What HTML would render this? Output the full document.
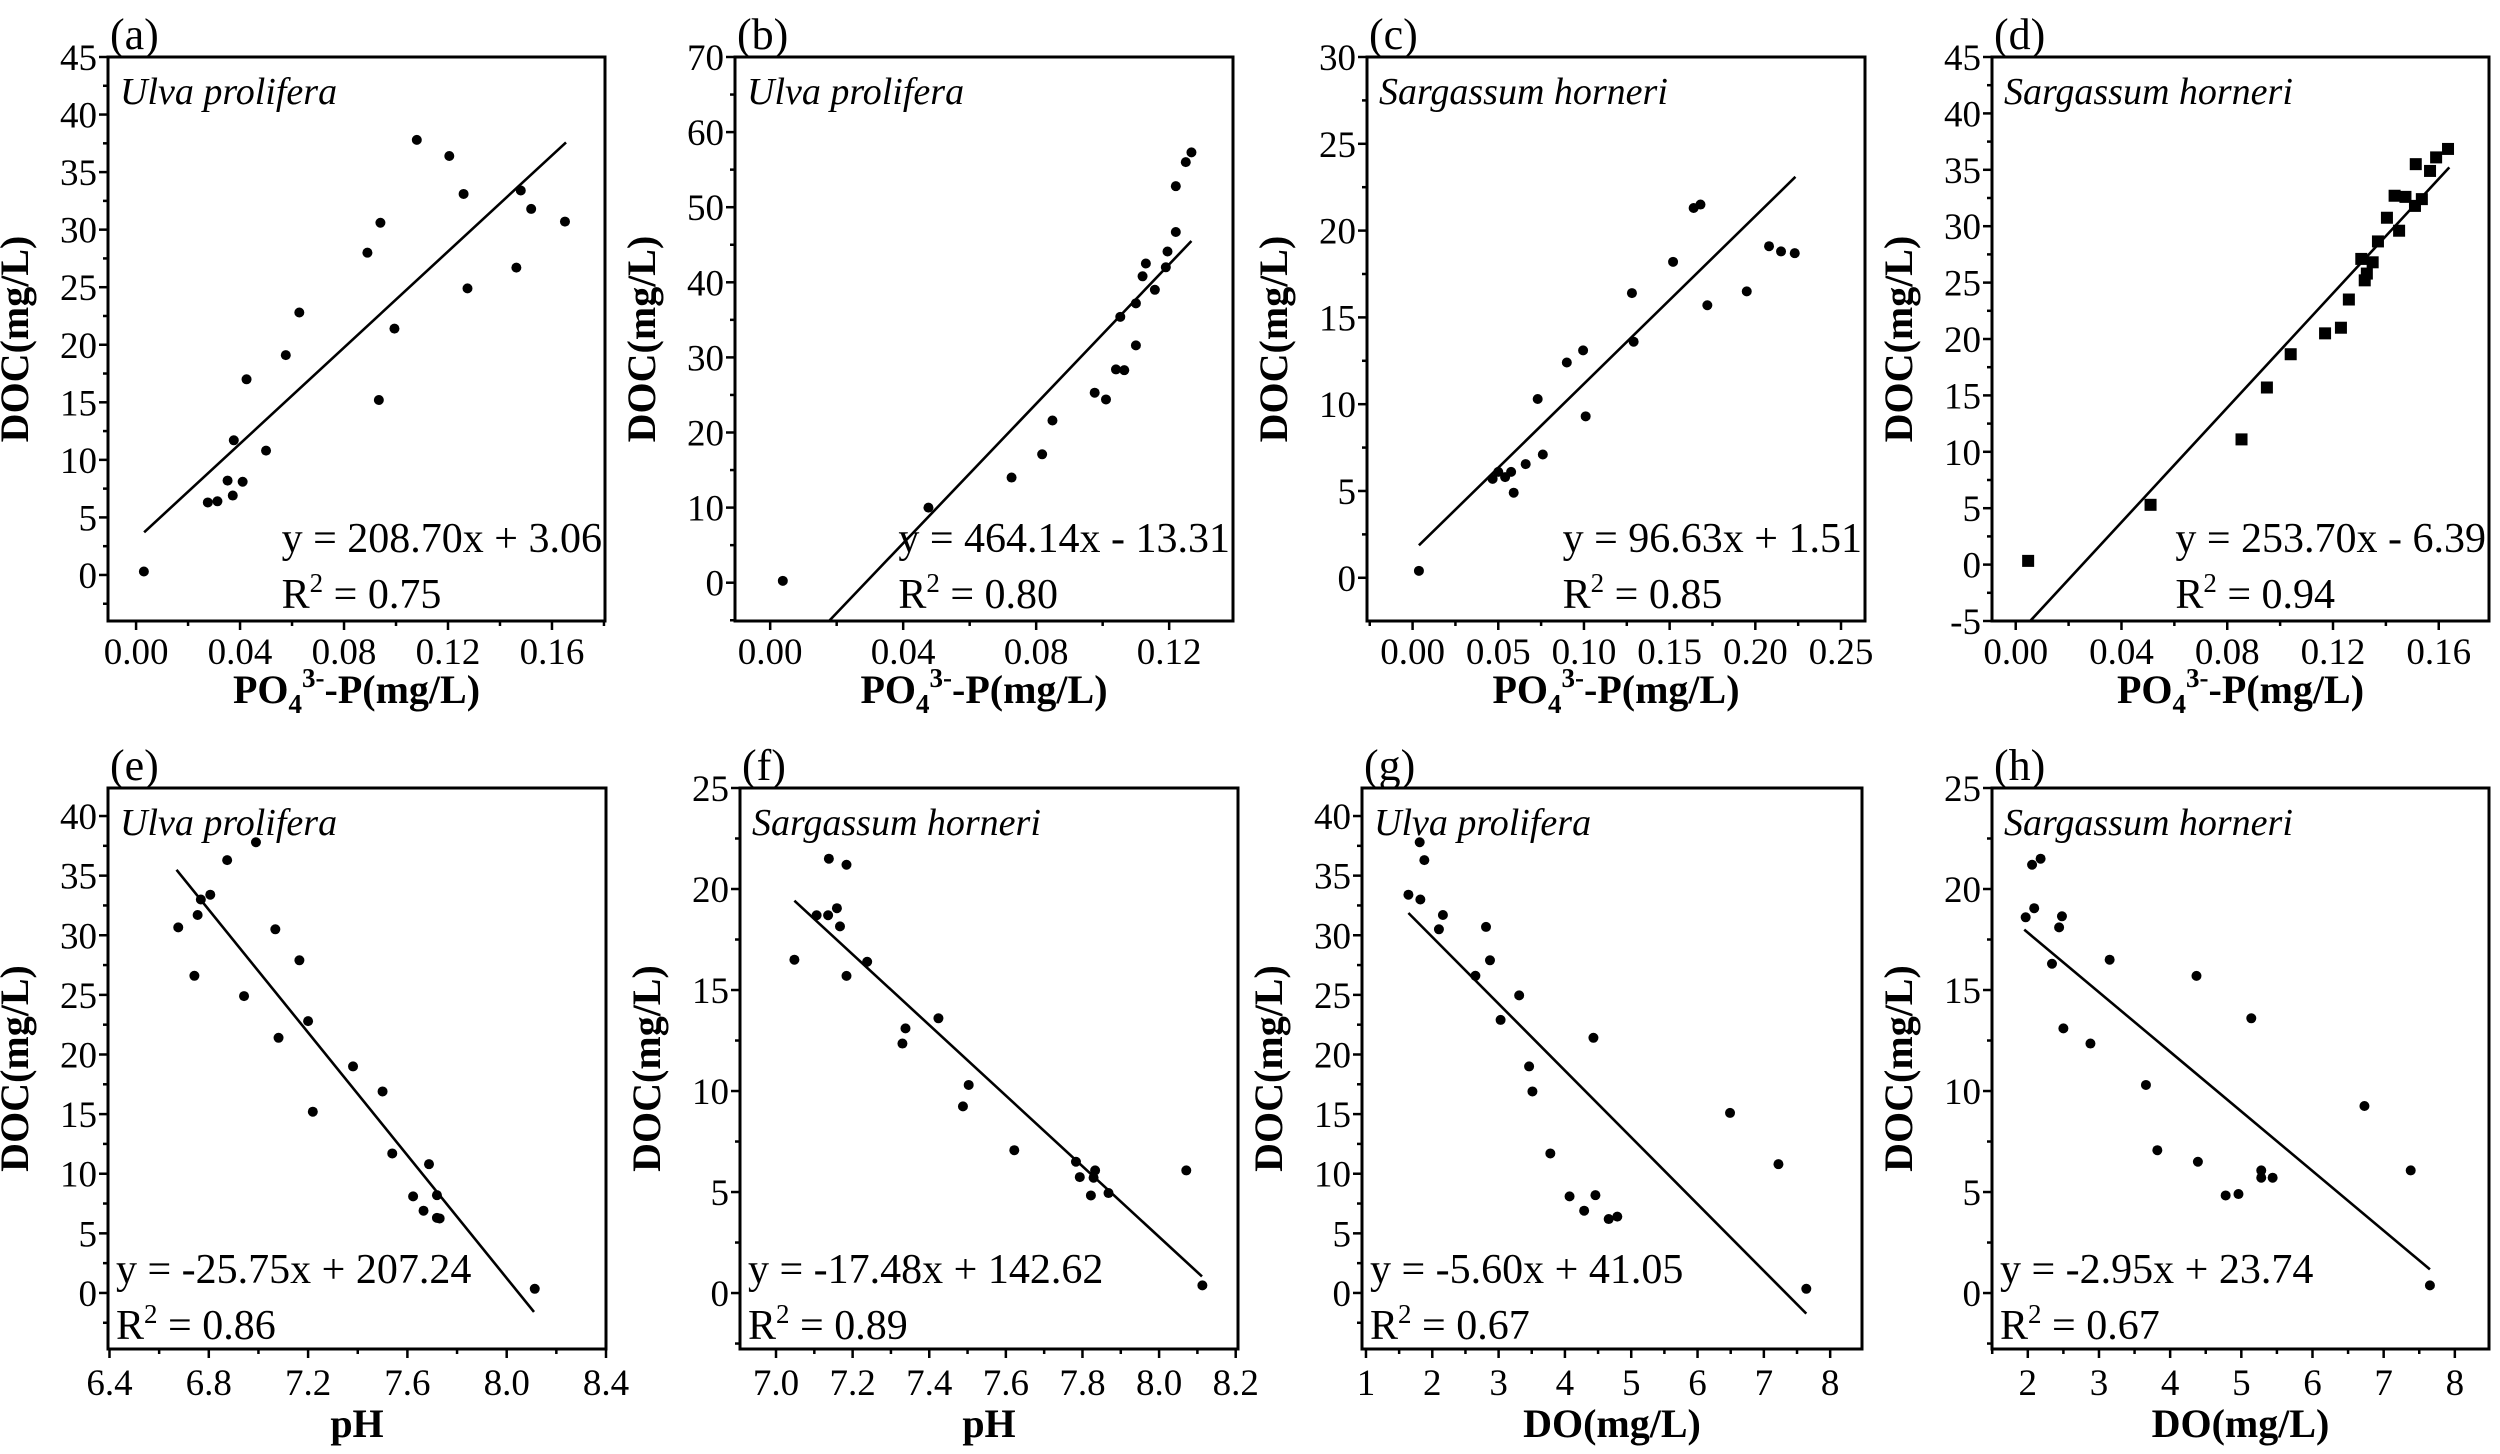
<!DOCTYPE html>
<html><head><meta charset="utf-8"><style>
html,body{margin:0;padding:0;background:#fff}
svg{display:block;font-family:"Liberation Serif","DejaVu Serif",serif}
text{font-family:"Liberation Serif","DejaVu Serif",serif;fill:#000}
</style></head><body>
<svg id="chart" xmlns="http://www.w3.org/2000/svg" width="2500" height="1454" viewBox="0 0 2500 1454" font-family="Liberation Serif, DejaVu Serif, serif"></svg>
<script>
// ---- data arrays ----
const aX=[0.003,0.0276,0.0313,0.0352,0.0372,0.0376,0.041,0.0425,0.050,0.0576,0.0628,0.089,0.0934,0.094,0.0994,0.108,0.1205,0.126,0.1275,0.1463,0.148,0.152,0.165];
const aY=[0.3,6.3,6.4,8.2,6.9,11.7,8.1,17,10.8,19.1,22.8,28,15.2,30.6,21.4,37.8,36.4,33.1,24.9,26.7,33.4,31.8,30.7];
const bX=[0.0038,0.0476,0.0726,0.0818,0.0849,0.0976,0.101,0.104,0.1065,0.1053,0.110,0.110,0.112,0.113,0.1157,0.119,0.1195,0.122,0.122,0.125,0.1267];
const bY=[0.25,10.0,14.0,17.1,21.6,25.3,24.4,28.4,28.3,35.4,31.6,37.2,40.8,42.5,39.0,42.0,44.1,46.7,52.8,56.0,57.3];
const cX=[0.0037,0.0467,0.050,0.054,0.0575,0.059,0.066,0.073,0.076,0.090,0.0995,0.101,0.128,0.129,0.152,0.164,0.168,0.172,0.195,0.208,0.215,0.223];
const cY=[0.4,5.7,6.1,5.8,6.1,4.9,6.55,10.3,7.1,12.4,13.1,9.3,16.4,13.6,18.2,21.3,21.5,15.7,16.5,19.1,18.8,18.7];
const dX=[0.0047,0.051,0.0854,0.095,0.104,0.117,0.123,0.126,0.1307,0.132,0.1328,0.135,0.137,0.1404,0.1433,0.145,0.1474,0.151,0.1513,0.1536,0.1567,0.159,0.1635];
const dY=[0.33,5.3,11.1,15.7,18.65,20.5,21.0,23.5,27.1,25.2,25.8,26.8,28.65,30.75,32.7,29.6,32.6,31.8,35.5,32.4,34.9,36.1,36.85];
const eX=[6.677,6.742,6.755,6.768,6.806,6.874,6.942,6.99,7.068,7.081,7.165,7.2,7.219,7.381,7.5,7.539,7.623,7.665,7.687,7.719,7.719,7.73,8.113];
const eY=[30.66,26.6,31.7,33.0,33.4,36.3,24.9,37.8,30.5,21.4,27.9,22.8,15.2,19.0,16.9,11.7,8.1,6.9,10.8,8.2,6.3,6.25,0.35];
const fX=[7.048,7.106,7.136,7.138,7.159,7.167,7.184,7.184,7.238,7.33,7.338,7.424,7.488,7.503,7.622,7.783,7.793,7.822,7.829,7.833,7.868,8.071,8.113];
const fY=[16.5,18.7,18.7,21.5,19.05,18.15,21.2,15.7,16.4,12.35,13.1,13.6,9.24,10.3,7.07,6.5,5.74,4.83,5.71,6.07,4.95,6.07,0.38];
const gX=[1.64,1.81,1.82,1.88,2.1,2.16,2.65,2.81,2.87,3.03,3.31,3.46,3.51,3.78,4.07,4.29,4.43,4.46,4.66,4.79,6.49,7.22,7.64];
const gY=[33.4,37.8,33.0,36.3,30.5,31.7,26.6,30.7,27.9,22.9,24.96,19.0,16.9,11.7,8.1,6.9,21.4,8.2,6.2,6.4,15.1,10.8,0.35];
const hX=[1.97,2.06,2.09,2.18,2.34,2.44,2.48,2.5,2.88,3.15,3.66,3.82,4.37,4.39,4.78,4.96,5.14,5.28,5.28,5.44,6.73,7.38,7.65];
const hY=[18.6,21.2,19.05,21.5,16.3,18.1,18.65,13.1,12.35,16.5,10.3,7.07,15.7,6.5,4.83,4.9,13.6,6.07,5.71,5.71,9.26,6.07,0.38];
const fitSlope=[208.70,464.14,96.63,253.70,-25.75,-17.48,-5.60,-2.95];
const fitIntercept=[3.06,-13.31,1.51,-6.39,207.24,142.62,41.05,23.74];
const fitStart=[0.0031,0.0177,0.0037,0.0055,6.67,7.048,1.64,1.95];
const fitEnd=[0.1654,0.1267,0.2234,0.164,8.11,8.112,7.64,7.65];
const eqLabels=["y = 208.70x + 3.06","y = 464.14x - 13.31","y = 96.63x + 1.51","y = 253.70x - 6.39","y = -25.75x + 207.24","y = -17.48x + 142.62","y = -5.60x + 41.05","y = -2.95x + 23.74"];
const r2Labels=["0.75","0.80","0.85","0.94","0.86","0.89","0.67","0.67"];
const speciesLabels=["Ulva prolifera","Ulva prolifera","Sargassum horneri","Sargassum horneri","Ulva prolifera","Sargassum horneri","Ulva prolifera","Sargassum horneri"];
const panelLetters=["(a)","(b)","(c)","(d)","(e)","(f)","(g)","(h)"];
const xTicksA=[0,0.04,0.08,0.12,0.16], xTickLabelsA=["0.00","0.04","0.08","0.12","0.16"];
const xTicksB=[0,0.04,0.08,0.12], xTickLabelsB=["0.00","0.04","0.08","0.12"];
const xTicksC=[0,0.05,0.10,0.15,0.20,0.25], xTickLabelsC=["0.00","0.05","0.10","0.15","0.20","0.25"];
const xTicksE=[6.4,6.8,7.2,7.6,8.0,8.4], xTickLabelsE=["6.4","6.8","7.2","7.6","8.0","8.4"];
const xTicksF=[7.0,7.2,7.4,7.6,7.8,8.0,8.2], xTickLabelsF=["7.0","7.2","7.4","7.6","7.8","8.0","8.2"];
const xTicksG=[1,2,3,4,5,6,7,8], xTickLabelsG=["1","2","3","4","5","6","7","8"];
const xTicksH=[2,3,4,5,6,7,8], xTickLabelsH=["2","3","4","5","6","7","8"];
const yTicks45=[0,5,10,15,20,25,30,35,40,45];
const yTicks70=[0,10,20,30,40,50,60,70];
const yTicks30=[0,5,10,15,20,25,30];
const yTicksD=[-5,0,5,10,15,20,25,30,35,40,45];
const yTicks40=[-5,0,5,10,15,20,25,30,35,40];
const yTicks25=[0,5,10,15,20,25];

const panels=[
 {box:[108,57,605,621],xd:[-0.0108,0.1804],yd:[-4,45],xs:aX,ys:aY,xt:xTicksA,xl:xTickLabelsA,yt:yTicks45,xtitle:'po4',mk:'dot',eqAlign:'end',row:0},
 {box:[735,57,1233,621],xd:[-0.01058,0.1392],yd:[-5.1,70],xs:bX,ys:bY,xt:xTicksB,xl:xTickLabelsB,yt:yTicks70,xtitle:'po4',mk:'dot',eqAlign:'end',row:0},
 {box:[1367,57,1865,621],xd:[-0.0266,0.264],yd:[-2.49,30],xs:cX,ys:cY,xt:xTicksC,xl:xTickLabelsC,yt:yTicks30,xtitle:'po4',mk:'dot',eqAlign:'end',row:0},
 {box:[1992,57,2489,621],xd:[-0.00897,0.179],yd:[-5,45],xs:dX,ys:dY,xt:xTicksA,xl:xTickLabelsA,yt:yTicksD,xtitle:'po4',mk:'square',eqAlign:'end',row:0},
 {box:[108,788,606,1349],xd:[6.394,8.4],yd:[-4.7,42.35],xs:eX,ys:eY,xt:xTicksE,xl:xTickLabelsE,yt:yTicks40,xtitle:'pH',mk:'dot',eqAlign:'start',row:1},
 {box:[740,788,1238,1349],xd:[6.906,8.206],yd:[-2.77,25],xs:fX,ys:fY,xt:xTicksF,xl:xTickLabelsF,yt:yTicks25,xtitle:'pH',mk:'dot',eqAlign:'start',row:1},
 {box:[1362,788,1862,1349],xd:[0.94,8.48],yd:[-4.7,42.35],xs:gX,ys:gY,xt:xTicksG,xl:xTickLabelsG,yt:yTicks40,xtitle:'DO(mg/L)',mk:'dot',eqAlign:'start',row:1},
 {box:[1992,788,2489,1349],xd:[1.497,8.48],yd:[-2.77,25],xs:hX,ys:hY,xt:xTicksH,xl:xTickLabelsH,yt:yTicks25,xtitle:'DO(mg/L)',mk:'dot',eqAlign:'start',row:1}
];
const NS='http://www.w3.org/2000/svg';
const svg=document.getElementById('chart');
const FF='Liberation Serif, DejaVu Serif, serif';
function el(tag,attrs,parent){const e=document.createElementNS(NS,tag);for(const k in attrs)e.setAttribute(k,attrs[k]);if(tag==='text')e.setAttribute('font-family',FF);(parent||svg).appendChild(e);return e;}

panels.forEach((p,i)=>{
  const [x0,y0,x1,y1]=p.box;
  const letter=panelLetters[i].replace(/[()]/g,'');
  const g=el('g',{});
  
  
  const sx=v=>x0+(v-p.xd[0])/(p.xd[1]-p.xd[0])*(x1-x0);
  const sy=v=>y1-(v-p.yd[0])/(p.yd[1]-p.yd[0])*(y1-y0);
  const ystep=p.yt[1]-p.yt[0];
  for(let v=p.yt[0]-ystep/2; v<=p.yd[1]+1e-9; v+=ystep/2){
    if(v<p.yd[0]-1e-9) continue;
    const major=p.yt.some(t=>Math.abs(t-v)<1e-9);
    const yy=sy(v);
    const t=el('line',{x1:x0-(major?9:5),x2:x0,y1:yy,y2:yy,stroke:'#000','stroke-width':2.5},g);
    
    
    if(major){
      const lb=el('text',{x:x0-11,y:yy+13,'font-size':37,'text-anchor':'end'},g);
      lb.textContent=String(v);
      
      
    }
  }
  const xstep=p.xt[1]-p.xt[0];
  for(let v=p.xt[0]-xstep/2; v<=p.xd[1]+1e-9; v+=xstep/2){
    if(v<p.xd[0]-1e-9) continue;
    const idx=p.xt.findIndex(t=>Math.abs(t-v)<1e-9);
    const major=idx>=0;
    const xx=sx(v);
    const t=el('line',{x1:xx,x2:xx,y1:y1,y2:y1+(major?9:5),stroke:'#000','stroke-width':2.5},g);
    
    
    if(major){
      const lb=el('text',{x:xx,y:y1+(p.row?46:43),'font-size':37,'text-anchor':'middle'},g);
      lb.textContent=p.xl[idx];
      
      
    }
  }
  const box=el('rect',{x:x0,y:y0,width:x1-x0,height:y1-y0,fill:'none',stroke:'#000','stroke-width':3},g);
  
  
  const fl=el('line',{x1:sx(fitStart[i]),y1:sy(fitSlope[i]*fitStart[i]+fitIntercept[i]),x2:sx(fitEnd[i]),y2:sy(fitSlope[i]*fitEnd[i]+fitIntercept[i]),stroke:'#000','stroke-width':2.6},g);
  
  
  p.xs.forEach((xv,k)=>{
    let m;
    if(p.mk==='square'){
      m=el('rect',{x:sx(xv)-6,y:sy(p.ys[k])-6,width:12,height:12,fill:'#000'},g);
    } else {
      m=el('circle',{cx:sx(xv),cy:sy(p.ys[k]),r:5,fill:'#000'},g);
    }
    
    
  });
  const pl=el('text',{x:x0+2,y:y0-8,'font-size':44},g);
  pl.textContent=panelLetters[i];
  
  
  const sp=el('text',{x:x0+12,y:y0+47,'font-size':38,'font-style':'italic'},g);
  sp.textContent=speciesLabels[i];
  
  
  const eqY=p.row?1283:552, r2Y=p.row?1339:608;
  const eq=el('text',{y:eqY,'font-size':42},g);
  eq.textContent=eqLabels[i];
  
  
  let ex;
  if(p.eqAlign==='end'){ex=x1-3-eq.getComputedTextLength();}else{ex=x0+8;}
  eq.setAttribute('x',ex);
  const r2=el('text',{x:ex,y:r2Y,'font-size':42},g);
  
  
  const t1=el('tspan',{},r2);t1.textContent='R';
  const t2=el('tspan',{dy:-16,'font-size':27},r2);t2.textContent='2';
  const t3=el('tspan',{dy:16},r2);t3.textContent=' = '+r2Labels[i];
  const cy=(y0+y1)/2, tx=x0-80;
  const yt=el('text',{x:tx,y:cy,'font-size':40,'font-weight':'bold','text-anchor':'middle',transform:'rotate(-90 '+tx+' '+cy+')'},g);
  yt.textContent='DOC(mg/L)';
  
  
  const xtY=y1+(p.row?88:82);
  const xt=el('text',{x:(x0+x1)/2,y:xtY,'font-size':40,'font-weight':'bold','text-anchor':'middle'},g);
  
  
  if(p.xtitle==='po4'){
    const a=el('tspan',{},xt);a.textContent='PO';
    const b=el('tspan',{dy:10,'font-size':27},xt);b.textContent='4';
    const c=el('tspan',{dy:-26,'font-size':27},xt);c.textContent='3-';
    const d=el('tspan',{dy:16},xt);d.textContent='-P(mg/L)';
  } else {
    xt.textContent=p.xtitle;
  }
});
</script>
</body></html>
